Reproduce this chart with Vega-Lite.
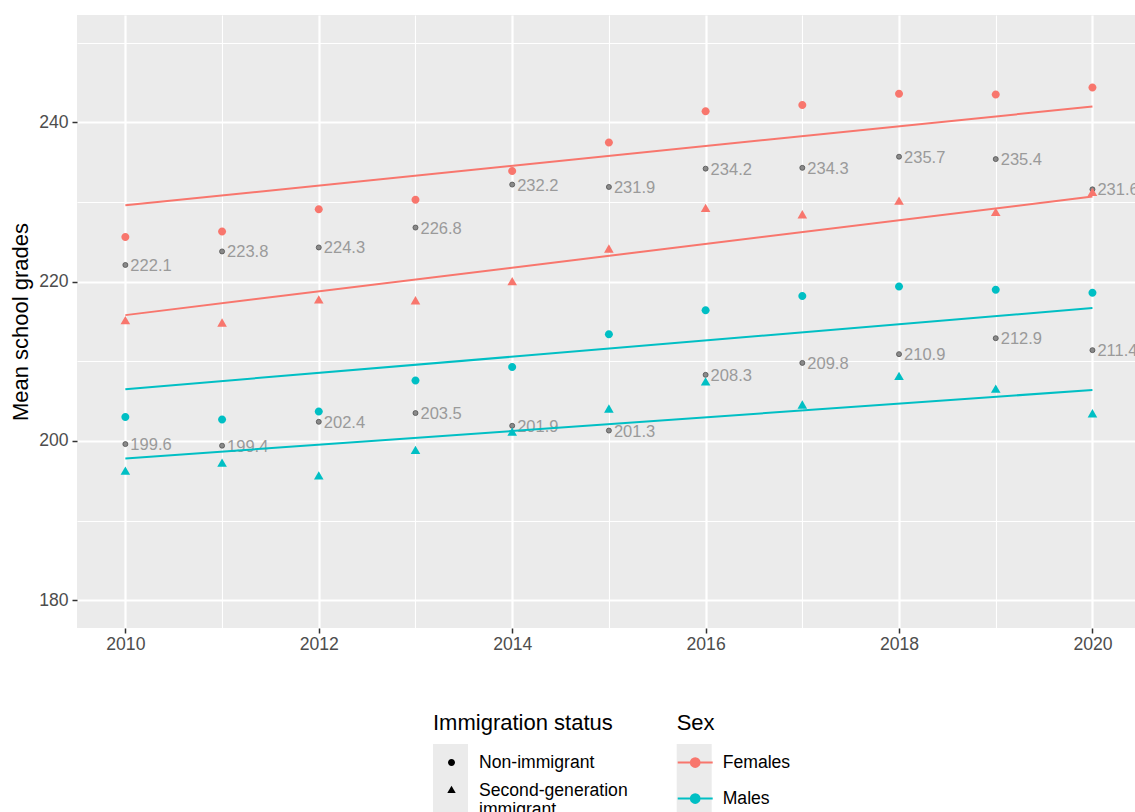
{
  "$schema": "https://vega.github.io/schema/vega-lite/v6.json",
  "width": 1058,
  "height": 613,
  "autosize": {"type": "none"},
  "padding": {"left": 77, "top": 15, "right": 0, "bottom": 184},
  "background": "white",
  "config": {
    "view": {"fill": "#EBEBEB", "stroke": null},
    "font": "Liberation Sans",
    "axis": {
      "domain": false,
      "grid": true,
      "gridColor": "white",
      "tickColor": "#333333",
      "tickSize": 5,
      "tickWidth": 1.5,
      "labelFontSize": 17.6,
      "labelColor": "#4D4D4D",
      "labelFont": "Liberation Sans"
    },
    "legend": {
      "titleFontWeight": "normal",
      "titleFontSize": 22,
      "titleColor": "black",
      "labelFontSize": 17.6,
      "labelColor": "black",
      "titleFont": "Liberation Sans",
      "labelFont": "Liberation Sans",
      "padding": 0,
      "labelLimit": 300
    }
  },
  "datasets": {
    "points": [
      {"sex": "Females", "status": "Non-immigrant", "year": 2010, "value": 225.6},
      {"sex": "Females", "status": "Non-immigrant", "year": 2011, "value": 226.3},
      {"sex": "Females", "status": "Non-immigrant", "year": 2012, "value": 229.1},
      {"sex": "Females", "status": "Non-immigrant", "year": 2013, "value": 230.3},
      {"sex": "Females", "status": "Non-immigrant", "year": 2014, "value": 233.9},
      {"sex": "Females", "status": "Non-immigrant", "year": 2015, "value": 237.5},
      {"sex": "Females", "status": "Non-immigrant", "year": 2016, "value": 241.4},
      {"sex": "Females", "status": "Non-immigrant", "year": 2017, "value": 242.2},
      {"sex": "Females", "status": "Non-immigrant", "year": 2018, "value": 243.6},
      {"sex": "Females", "status": "Non-immigrant", "year": 2019, "value": 243.5},
      {"sex": "Females", "status": "Non-immigrant", "year": 2020, "value": 244.4},
      {"sex": "Females", "status": "Second-generation immigrant", "year": 2010, "value": 215.0},
      {"sex": "Females", "status": "Second-generation immigrant", "year": 2011, "value": 214.7},
      {"sex": "Females", "status": "Second-generation immigrant", "year": 2012, "value": 217.6},
      {"sex": "Females", "status": "Second-generation immigrant", "year": 2013, "value": 217.5},
      {"sex": "Females", "status": "Second-generation immigrant", "year": 2014, "value": 219.9},
      {"sex": "Females", "status": "Second-generation immigrant", "year": 2015, "value": 224.0},
      {"sex": "Females", "status": "Second-generation immigrant", "year": 2016, "value": 229.1},
      {"sex": "Females", "status": "Second-generation immigrant", "year": 2017, "value": 228.3},
      {"sex": "Females", "status": "Second-generation immigrant", "year": 2018, "value": 230.0},
      {"sex": "Females", "status": "Second-generation immigrant", "year": 2019, "value": 228.6},
      {"sex": "Females", "status": "Second-generation immigrant", "year": 2020, "value": 231.1},
      {"sex": "Males", "status": "Non-immigrant", "year": 2010, "value": 203.0},
      {"sex": "Males", "status": "Non-immigrant", "year": 2011, "value": 202.7},
      {"sex": "Males", "status": "Non-immigrant", "year": 2012, "value": 203.7},
      {"sex": "Males", "status": "Non-immigrant", "year": 2013, "value": 207.6},
      {"sex": "Males", "status": "Non-immigrant", "year": 2014, "value": 209.3},
      {"sex": "Males", "status": "Non-immigrant", "year": 2015, "value": 213.4},
      {"sex": "Males", "status": "Non-immigrant", "year": 2016, "value": 216.4},
      {"sex": "Males", "status": "Non-immigrant", "year": 2017, "value": 218.2},
      {"sex": "Males", "status": "Non-immigrant", "year": 2018, "value": 219.4},
      {"sex": "Males", "status": "Non-immigrant", "year": 2019, "value": 219.0},
      {"sex": "Males", "status": "Non-immigrant", "year": 2020, "value": 218.6},
      {"sex": "Males", "status": "Second-generation immigrant", "year": 2010, "value": 196.1},
      {"sex": "Males", "status": "Second-generation immigrant", "year": 2011, "value": 197.1},
      {"sex": "Males", "status": "Second-generation immigrant", "year": 2012, "value": 195.5},
      {"sex": "Males", "status": "Second-generation immigrant", "year": 2013, "value": 198.7},
      {"sex": "Males", "status": "Second-generation immigrant", "year": 2014, "value": 201.0},
      {"sex": "Males", "status": "Second-generation immigrant", "year": 2015, "value": 203.9},
      {"sex": "Males", "status": "Second-generation immigrant", "year": 2016, "value": 207.3},
      {"sex": "Males", "status": "Second-generation immigrant", "year": 2017, "value": 204.4},
      {"sex": "Males", "status": "Second-generation immigrant", "year": 2018, "value": 208.0},
      {"sex": "Males", "status": "Second-generation immigrant", "year": 2019, "value": 206.4},
      {"sex": "Males", "status": "Second-generation immigrant", "year": 2020, "value": 203.3}
    ],
    "lines": [
      {"sex": "Females", "status": "Non-immigrant", "year": 2010, "value": 229.6},
      {"sex": "Females", "status": "Non-immigrant", "year": 2020, "value": 242.0},
      {"sex": "Females", "status": "Second-generation immigrant", "year": 2010, "value": 215.8},
      {"sex": "Females", "status": "Second-generation immigrant", "year": 2020, "value": 230.7},
      {"sex": "Males", "status": "Non-immigrant", "year": 2010, "value": 206.5},
      {"sex": "Males", "status": "Non-immigrant", "year": 2020, "value": 216.7},
      {"sex": "Males", "status": "Second-generation immigrant", "year": 2010, "value": 197.8},
      {"sex": "Males", "status": "Second-generation immigrant", "year": 2020, "value": 206.4}
    ],
    "labels": [
      {"year": 2010, "value": 222.1}, {"year": 2010, "value": 199.6},
      {"year": 2011, "value": 223.8}, {"year": 2011, "value": 199.4},
      {"year": 2012, "value": 224.3}, {"year": 2012, "value": 202.4},
      {"year": 2013, "value": 226.8}, {"year": 2013, "value": 203.5},
      {"year": 2014, "value": 232.2}, {"year": 2014, "value": 201.9},
      {"year": 2015, "value": 231.9}, {"year": 2015, "value": 201.3},
      {"year": 2016, "value": 234.2}, {"year": 2016, "value": 208.3},
      {"year": 2017, "value": 234.3}, {"year": 2017, "value": 209.8},
      {"year": 2018, "value": 235.7}, {"year": 2018, "value": 210.9},
      {"year": 2019, "value": 235.4}, {"year": 2019, "value": 212.9},
      {"year": 2020, "value": 231.6}, {"year": 2020, "value": 211.4}
    ],
    "keys": [
      {"keyA": "a1", "keyB": "b1"},
      {"keyA": "a2", "keyB": "b1"}
    ]
  },
  "encoding": {
    "x": {
      "field": "year",
      "type": "quantitative",
      "scale": {"domain": [2009.5, 2020.44], "nice": false, "zero": false},
      "axis": {
        "title": null,
        "values": [2010, 2011, 2012, 2013, 2014, 2015, 2016, 2017, 2018, 2019, 2020],
        "format": "d",
        "labelExpr": "datum.value % 2 === 0 ? datum.label : ''",
        "gridWidth": {"condition": {"test": "datum.value % 2 === 0", "value": 2.2}, "value": 1.1},
        "tickOpacity": {"condition": {"test": "datum.value % 2 === 0", "value": 1}, "value": 0},
        "labelPadding": 2,
        "labelFlush": false,
        "labelOverlap": false
      }
    },
    "y": {
      "field": "value",
      "type": "quantitative",
      "scale": {"domain": [176.5, 253.5], "nice": false, "zero": false},
      "axis": {
        "title": "Mean school grades",
        "values": [180, 190, 200, 210, 220, 230, 240, 250],
        "labelExpr": "datum.value % 20 === 0 ? datum.label : ''",
        "gridWidth": {"condition": {"test": "datum.value % 20 === 0", "value": 2.2}, "value": 1.1},
        "tickOpacity": {"condition": {"test": "datum.value % 20 === 0", "value": 1}, "value": 0},
        "labelPadding": 4,
        "labelOverlap": false,
        "labelFlush": false,
        "titleFontSize": 22,
        "titleFontWeight": "normal",
        "titleColor": "black",
        "titleFont": "Liberation Sans",
        "titleAngle": -90,
        "titleX": -50,
        "titleY": 306.5,
        "titleAlign": "center",
        "titleBaseline": "alphabetic"
      }
    }
  },
  "layer": [
    {
      "data": {"name": "keys"},
      "mark": {"type": "point", "filled": true},
      "encoding": {
        "size": {
          "field": "keyA",
          "type": "ordinal",
          "scale": {"domain": ["a1", "a2"], "range": [1225, 1225]},
          "legend": {
            "title": "Immigration status",
            "orient": "none",
            "legendX": 356,
            "legendY": 698,
            "zindex": 1,
            "symbolType": "square",
            "symbolFillColor": "#EBEBEB",
            "symbolStrokeColor": "#EBEBEB",
            "symbolStrokeWidth": 0,
            "symbolOpacity": 1,
            "titlePadding": 9,
            "rowPadding": 0,
            "labelOffset": 9,
            "titleColor": "transparent",
            "labelColor": "transparent",
            "labelExpr": "''"
          }
        },
        "fill": {
          "field": "keyB",
          "type": "nominal",
          "scale": {"domain": ["b1"], "range": ["#EBEBEB"]},
          "legend": {
            "title": "Sex",
            "orient": "none",
            "legendX": 599.7,
            "legendY": 698,
            "zindex": 1,
            "symbolType": "M-1,-1L1,-1L1,3L-1,3Z",
            "symbolSize": 1225,
            "symbolStrokeWidth": 0,
            "symbolOpacity": 1,
            "titlePadding": 9,
            "rowPadding": 0,
            "labelOffset": 9,
            "titleColor": "transparent",
            "labelColor": "transparent",
            "labelExpr": "''"
          }
        }
      }
    },
    {
      "data": {"name": "labels"},
      "mark": {"type": "text", "align": "left", "baseline": "middle", "dx": 5, "dy": 1, "fontSize": 16.5, "color": "#9a9a9a", "font": "Liberation Sans"},
      "encoding": {"text": {"field": "value", "type": "quantitative", "format": ".1f"}}
    },
    {
      "data": {"name": "labels"},
      "mark": {"type": "point", "shape": "circle", "filled": true, "size": 25, "fill": "#8a8a8a", "stroke": "#505050", "strokeWidth": 0.8, "opacity": 1}
    },
    {
      "data": {"name": "points"},
      "mark": {"type": "point", "filled": true, "opacity": 1, "size": 1600},
      "encoding": {
        "color": {
          "field": "sex",
          "type": "nominal",
          "scale": {"domain": ["Females", "Males"], "range": ["#F8766D", "#00BFC4"]},
          "legend": {
            "title": "Sex",
            "orient": "none",
            "legendX": 599.7,
            "legendY": 698,
            "zindex": 2,
            "symbolType": "M-1,0L1,0M0.25,0A0.25,0.25,0,1,1,-0.25,0A0.25,0.25,0,1,1,0.25,0Z",
            "symbolSize": 1225,
            "symbolStrokeWidth": 2,
            "titlePadding": 9,
            "rowPadding": 8,
            "labelOffset": 9
          }
        },
        "shape": {
          "field": "status",
          "type": "nominal",
          "scale": {
            "domain": ["Non-immigrant", "Second-generation immigrant"],
            "range": [
              "M0.2,0A0.2,0.2,0,1,1,-0.2,0A0.2,0.2,0,1,1,0.2,0Z",
              "M0,-0.277L0.24,0.139L-0.24,0.139Z"
            ]
          },
          "legend": {
            "title": "Immigration status",
            "orient": "none",
            "legendX": 356,
            "legendY": 698,
            "zindex": 2,
            "symbolSize": 1225,
            "titlePadding": 9,
            "rowPadding": -1,
            "labelOffset": 9,
            "labelExpr": "datum.label == 'Second-generation immigrant' ? ['Second-generation', 'immigrant'] : datum.label"
          }
        }
      }
    },
    {
      "data": {"name": "lines"},
      "mark": {"type": "line", "strokeWidth": 2},
      "encoding": {
        "color": {"field": "sex", "type": "nominal"},
        "detail": {"field": "status", "type": "nominal"}
      }
    }
  ]
}
